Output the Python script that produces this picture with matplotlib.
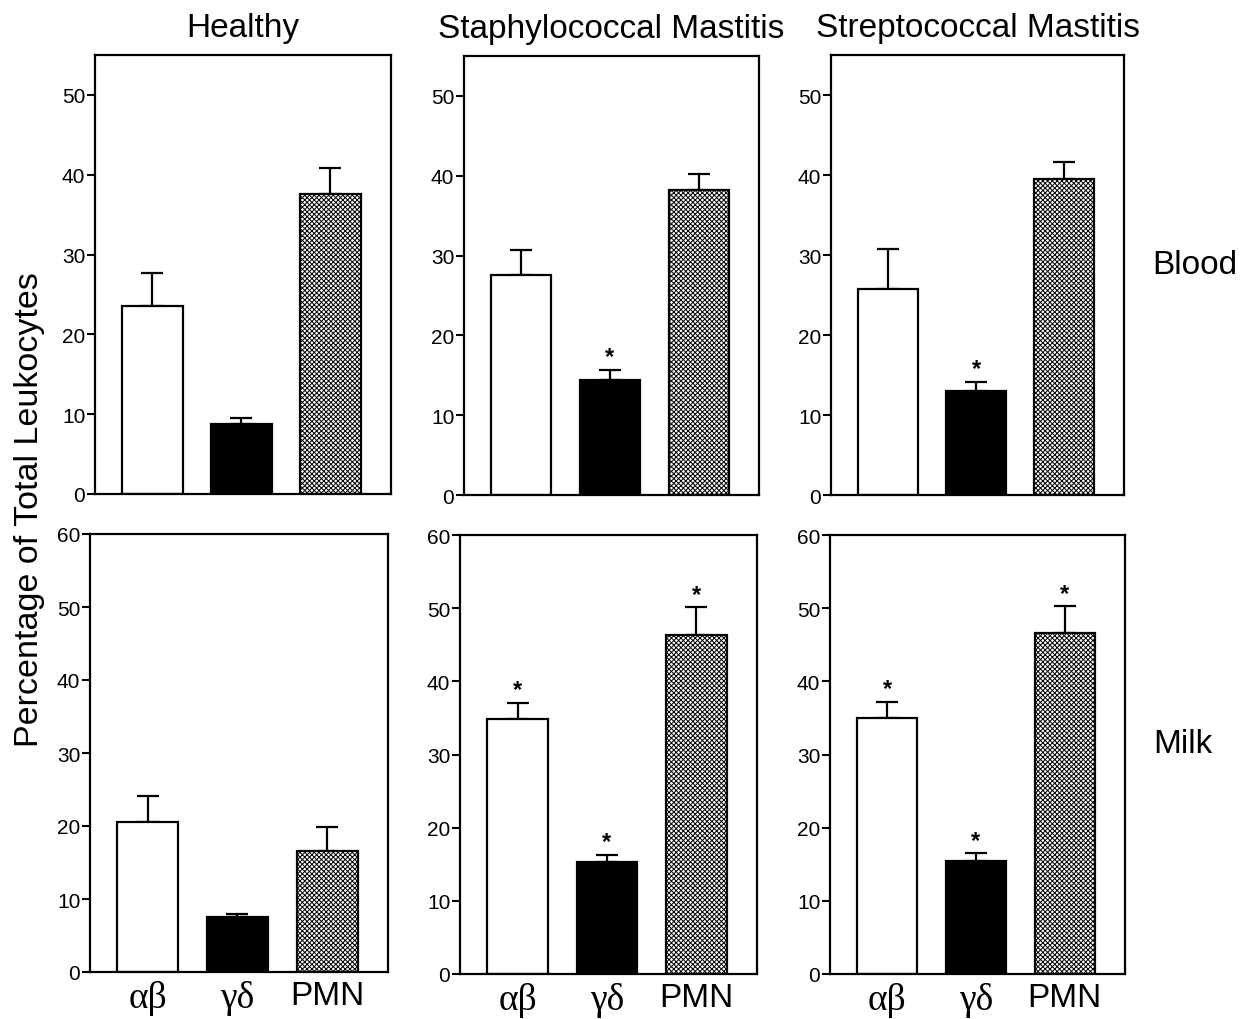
import matplotlib
matplotlib.use("Agg")
import matplotlib.pyplot as plt
import numpy as np

plt.rcParams['font.family'] = ['Liberation Sans', 'DejaVu Sans']
plt.rcParams['hatch.linewidth'] = 0.7

conditions = ["Healthy", "Staphylococcal Mastitis", "Streptococcal Mastitis"]
samples = ["Blood", "Milk"]
cell_types = ["αβ", "γδ", "PMN"]

# means and upper SEM for each panel (row=sample, col=condition)
blood_mean = {
    "Healthy": [23.5, 8.8, 37.6],
    "Staphylococcal Mastitis": [27.6, 14.4, 38.2],
    "Streptococcal Mastitis": [25.7, 13.0, 39.5],
}
blood_err = {
    "Healthy": [4.2, 0.7, 3.2],
    "Staphylococcal Mastitis": [3.15, 1.3, 2.0],
    "Streptococcal Mastitis": [5.0, 1.15, 2.15],
}
milk_mean = {
    "Healthy": [20.6, 7.5, 16.6],
    "Staphylococcal Mastitis": [34.9, 15.3, 46.3],
    "Streptococcal Mastitis": [35.0, 15.4, 46.6],
}
milk_err = {
    "Healthy": [3.5, 0.5, 3.3],
    "Staphylococcal Mastitis": [2.2, 1.0, 3.8],
    "Streptococcal Mastitis": [2.2, 1.1, 3.7],
}
blood_sig = {
    "Healthy": [False, False, False],
    "Staphylococcal Mastitis": [False, True, False],
    "Streptococcal Mastitis": [False, True, False],
}
milk_sig = {
    "Healthy": [False, False, False],
    "Staphylococcal Mastitis": [True, True, True],
    "Streptococcal Mastitis": [True, True, True],
}

W, H = 1249, 1020
fig = plt.figure(figsize=(W / 100, H / 100), dpi=100)

# panel boxes in pixels: (left, right, top, bottom)
boxes = {
    (0, 0): (95, 391, 56, 495), (0, 1): (464, 759, 57, 496), (0, 2): (831, 1124, 56, 496),
    (1, 0): (90, 388, 535, 973), (1, 1): (460, 757, 536, 975), (1, 2): (830, 1125, 536, 975),
}

faces = ["white", "black", "white"]
hatches = [None, None, "xxxxxxx"]
x = np.arange(3)

for r, sample in enumerate(samples):
    means_d = blood_mean if r == 0 else milk_mean
    errs_d = blood_err if r == 0 else milk_err
    sig_d = blood_sig if r == 0 else milk_sig
    for c, cond in enumerate(conditions):
        l, rt, t, b = boxes[(r, c)]
        ax = fig.add_axes([l / W, 1 - b / H, (rt - l) / W, (b - t) / H])
        means = means_d[cond]
        errs = errs_d[cond]
        ax.errorbar(x, means, yerr=[np.zeros(3), errs], fmt='none', ecolor='black',
                    elinewidth=1.6, capsize=8, capthick=1.6, zorder=1)
        for i in range(3):
            ax.bar(x[i], means[i], width=0.68, facecolor=faces[i], edgecolor='black',
                   linewidth=1.6, hatch=hatches[i], zorder=2)
            if sig_d[cond][i]:
                ax.annotate("*", (x[i], means[i] + errs[i]), xytext=(0, 1),
                            textcoords='offset points', ha='center', va='bottom',
                            fontsize=17, fontweight='bold')
        ax.set_xlim(-0.646, 2.68)
        if r == 0:
            ax.set_ylim(0, 55)
            ax.set_yticks([0, 10, 20, 30, 40, 50])
        else:
            ax.set_ylim(0, 60)
            ax.set_yticks([0, 10, 20, 30, 40, 50, 60])
        ax.tick_params(axis='y', direction='out', length=6, width=1.5, labelsize=15, pad=1)
        if r == 1:
            ax.set_xticks(x)
            ax.set_xticklabels(cell_types)
            ax.tick_params(axis='x', length=0, pad=6)
            for lab in ax.get_xticklabels():
                if lab.get_text() == "PMN":
                    lab.set_fontsize(24)
                    lab.set_family(['Liberation Sans'])
                else:
                    lab.set_fontsize(27)
                    lab.set_family(['Liberation Serif', 'DejaVu Serif'])
        else:
            ax.set_xticks([])
        for s in ax.spines.values():
            s.set_linewidth(1.6)
        if r == 0:
            ax.set_title(cond, fontsize=24, pad=14)

fig.text(1195 / W, 1 - 266 / H, "Blood", fontsize=24, ha='center', va='center')
fig.text(1183 / W, 1 - 745 / H, "Milk", fontsize=24, ha='center', va='center')
fig.text(30 / W, 1 - 510 / H, "Percentage of Total Leukocytes", fontsize=24.5,
         rotation=90, ha='center', va='center')

fig.savefig("out.png", dpi=100, facecolor='white')
